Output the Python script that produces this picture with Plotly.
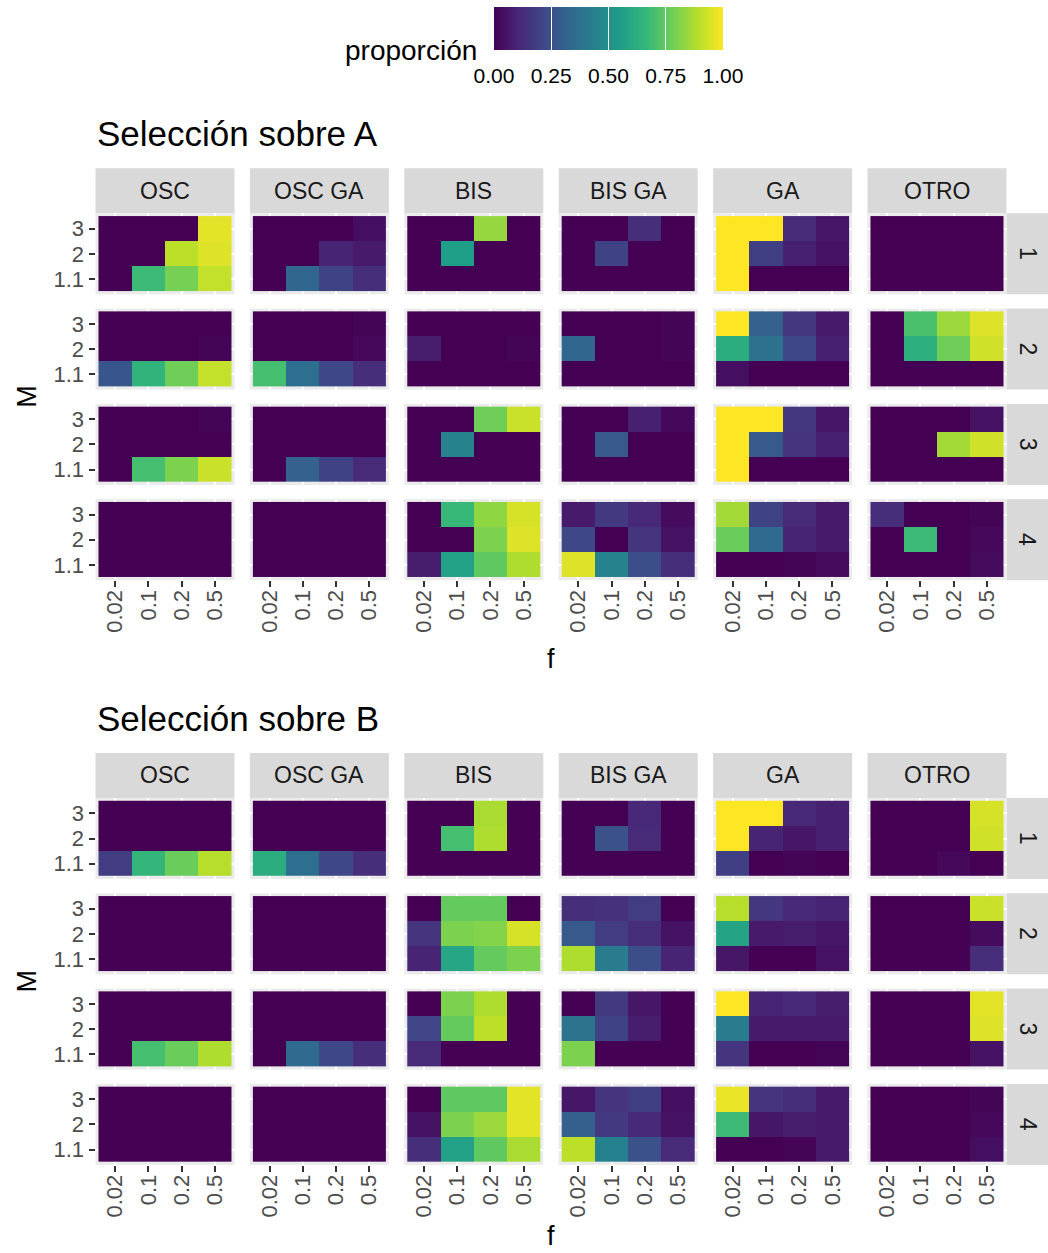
import plotly.graph_objects as go

# ---- categories / labels -------------------------------------------------
F_VALUES = ["0.02", "0.1", "0.2", "0.5"]          # x categories (f)
M_VALUES = ["1.1", "2", "3"]                      # y categories (M), bottom -> top
METHODS = ["OSC", "OSC GA", "BIS", "BIS GA", "GA", "OTRO"]
SCENARIOS = ["1", "2", "3", "4"]
SELECTIONS = ["Selección sobre A", "Selección sobre B"]
LEGEND_TICKS = [0.0, 0.25, 0.5, 0.75, 1.0]
LEGEND_LABELS = ["0.00", "0.25", "0.50", "0.75", "1.00"]

# ---- proportions: [scenario][M row: 1.1, 2, 3][f: 0.02, 0.1, 0.2, 0.5] ----
Z4 = [[0, 0, 0, 0], [0, 0, 0, 0], [0, 0, 0, 0]]

A_OSC = [
    [[0, .68, .79, .91], [0, 0, .90, .95], [0, 0, 0, .96]],
    [[.27, .65, .78, .91], [0, 0, 0, .01], [0, 0, 0, 0]],
    [[0, .70, .80, .92], [0, 0, 0, 0], [0, 0, 0, .01]],
    Z4,
]
A_OSC_GA = [
    [[0, .33, .20, .13], [0, 0, .10, .07], [0, 0, 0, .04]],
    [[.70, .36, .22, .13], [0, 0, 0, .02], [0, 0, 0, .01]],
    [[0, .31, .20, .12], [0, 0, 0, 0], [0, 0, 0, 0]],
    Z4,
]
A_BIS = [
    [[0, 0, 0, 0], [0, .56, 0, 0], [0, 0, .84, 0]],
    [[0, 0, 0, 0], [.08, 0, 0, .01], [0, 0, 0, 0]],
    [[0, 0, 0, 0], [0, .45, 0, 0], [0, 0, .78, .92]],
    [[.08, .57, .75, .88], [0, 0, .80, .95], [0, .67, .83, .94]],
]
A_BIS_GA = [
    [[0, 0, 0, 0], [0, .20, 0, 0], [0, 0, .13, 0]],
    [[0, 0, 0, 0], [.33, 0, 0, .01], [0, 0, 0, .01]],
    [[0, 0, 0, 0], [0, .28, 0, 0], [0, 0, .09, .02]],
    [[.95, .45, .24, .13], [.22, 0, .15, .05], [.07, .17, .11, .03]],
]
A_GA = [
    [[1, 0, 0, 0], [1, .19, .09, .05], [1, 1, .12, .06]],
    [[.04, 0, 0, 0], [.62, .37, .22, .09], [1, .31, .16, .07]],
    [[1, 0, 0, 0], [1, .28, .15, .09], [1, 1, .16, .06]],
    [[0, 0, .01, .03], [.77, .34, .10, .07], [.86, .20, .12, .07]],
]
A_OTRO = [
    Z4,
    [[0, 0, 0, 0], [0, .63, .78, .93], [0, .71, .85, .95]],
    [[0, 0, 0, 0], [0, 0, .86, .93], [0, 0, 0, .05]],
    [[0, 0, 0, .03], [0, .68, 0, .02], [.13, 0, 0, .01]],
]

B_OSC = [
    [[.18, .66, .77, .89], [0, 0, 0, 0], [0, 0, 0, 0]],
    Z4,
    [[0, .70, .77, .88], [0, 0, 0, 0], [0, 0, 0, 0]],
    Z4,
]
B_OSC_GA = [
    [[.62, .36, .22, .13], [0, 0, 0, 0], [0, 0, 0, 0]],
    Z4,
    [[0, .34, .22, .13], [0, 0, 0, 0], [0, 0, 0, 0]],
    Z4,
]
B_BIS = [
    [[0, 0, 0, 0], [0, .70, .88, 0], [0, 0, .87, 0]],
    [[.10, .59, .76, .80], [.15, .80, .81, .94], [0, .76, .76, 0]],
    [[.12, 0, 0, 0], [.21, .76, .90, 0], [0, .80, .88, 0]],
    [[.13, .57, .75, .87], [.05, .80, .85, .96], [0, .75, .75, .96]],
]
B_BIS_GA = [
    [[0, 0, 0, 0], [0, .25, .12, 0], [0, 0, .11, 0]],
    [[.88, .42, .24, .10], [.28, .18, .13, .05], [.13, .14, .18, 0]],
    [[.80, 0, 0, 0], [.38, .20, .08, 0], [0, .17, .06, 0]],
    [[.90, .44, .25, .12], [.30, .17, .11, .05], [.06, .15, .19, .04]],
]
B_GA = [
    [[.19, 0, .01, 0], [1, .10, .06, .09], [1, 1, .11, .09]],
    [[.06, 0, 0, .05], [.58, .07, .08, .06], [.89, .16, .11, .10]],
    [[.15, 0, 0, .01], [.42, .07, .07, .07], [1, .10, .11, .08]],
    [[0, 0, .01, .07], [.68, .06, .08, .07], [.97, .15, .13, .07]],
]
B_OTRO = [
    [[0, 0, .02, 0], [0, 0, 0, .93], [0, 0, 0, .94]],
    [[0, 0, 0, .13], [0, 0, 0, .03], [0, 0, 0, .92]],
    [[0, 0, 0, .05], [0, 0, 0, .95], [0, 0, 0, .96]],
    [[0, 0, 0, .04], [0, 0, 0, .02], [0, 0, 0, .01]],
]

DATA = [
    [A_OSC, A_OSC_GA, A_BIS, A_BIS_GA, A_GA, A_OTRO],
    [B_OSC, B_OSC_GA, B_BIS, B_BIS_GA, B_GA, B_OTRO],
]

# ---- page geometry (pixels) ----------------------------------------------
W, H = 1048, 1253
FONT = "Liberation Sans, Arial, sans-serif"
PANEL_X0, PANEL_DX, PANEL_W = 95.5, 154.4, 139.0
PANEL_Y0 = [213.3, 798.0]
PANEL_DY, PANEL_H = 95.3, 81.0
STRIP_H = 45.0
RIGHT_STRIP_X0 = 1006.7
X_PAD, Y_PAD = 0.09, 0.11   # small expansion around the tiles
TICK_FONT = dict(size=22, color="#4D4D4D", family=FONT)


def fx(px):
    return px / W


def fy(py):
    return 1 - py / H


fig = go.Figure()
layout = {}
shapes = []
annotations = []

tick_x = list(range(len(F_VALUES)))
tick_y = list(range(len(M_VALUES)))

n = 0
for g, sel in enumerate(DATA):
    for r, scen in enumerate(SCENARIOS):
        for c, meth in enumerate(METHODS):
            n += 1
            suffix = "" if n == 1 else str(n)
            x0 = PANEL_X0 + c * PANEL_DX
            y0 = PANEL_Y0[g] + r * PANEL_DY
            fig.add_trace(go.Heatmap(
                z=sel[c][r], x=tick_x, y=tick_y,
                coloraxis="coloraxis",
                xaxis="x" + suffix, yaxis="y" + suffix,
                hoverinfo="skip",
            ))
            bottom = r == len(SCENARIOS) - 1
            left = c == 0
            layout["xaxis" + suffix] = dict(
                domain=[fx(x0), fx(x0 + PANEL_W)],
                anchor="y" + suffix,
                range=[-0.5 - X_PAD, len(F_VALUES) - 0.5 + X_PAD],
                tickvals=tick_x, ticktext=F_VALUES,
                showticklabels=bottom, ticks="outside" if bottom else "",
                ticklen=6, tickwidth=1.6, tickcolor="#333333",
                tickangle=-90, tickfont=TICK_FONT, ticklabelstandoff=-6,
                showgrid=True, gridcolor="white", gridwidth=1.5,
                zeroline=False, showline=False, fixedrange=True,
            )
            layout["yaxis" + suffix] = dict(
                domain=[fy(y0 + PANEL_H), fy(y0)],
                anchor="x" + suffix,
                range=[-0.5 - Y_PAD, len(M_VALUES) - 0.5 + Y_PAD],
                tickvals=tick_y, ticktext=M_VALUES,
                showticklabels=left, ticks="outside" if left else "",
                ticklen=6, tickwidth=1.6, tickcolor="#333333",
                tickfont=TICK_FONT,
                showgrid=True, gridcolor="white", gridwidth=1.5,
                zeroline=False, showline=False, fixedrange=True,
            )

    # facet strips along the top
    top = PANEL_Y0[g] - STRIP_H
    for c, meth in enumerate(METHODS):
        x0 = PANEL_X0 + c * PANEL_DX
        shapes.append(dict(type="rect", xref="paper", yref="paper",
                           x0=fx(x0), x1=fx(x0 + PANEL_W), y0=fy(top + STRIP_H), y1=fy(top),
                           fillcolor="#D9D9D9", line=dict(width=0), layer="below"))
        annotations.append(dict(text=meth, x=fx(x0 + PANEL_W / 2), y=fy(top + STRIP_H / 2),
                                xref="paper", yref="paper", showarrow=False,
                                xanchor="center", yanchor="middle",
                                font=dict(size=23, color="#1A1A1A", family=FONT)))
    # facet strips on the right
    for r, scen in enumerate(SCENARIOS):
        y0 = PANEL_Y0[g] + r * PANEL_DY
        shapes.append(dict(type="rect", xref="paper", yref="paper",
                           x0=fx(RIGHT_STRIP_X0), x1=1.0, y0=fy(y0 + PANEL_H), y1=fy(y0),
                           fillcolor="#D9D9D9", line=dict(width=0), layer="below"))
        annotations.append(dict(text=scen, x=fx(RIGHT_STRIP_X0 + 21), y=fy(y0 + PANEL_H / 2),
                                xref="paper", yref="paper", showarrow=False, textangle=90,
                                xanchor="center", yanchor="middle",
                                font=dict(size=23, color="#1A1A1A", family=FONT)))

    # section title and axis titles
    annotations.append(dict(text=SELECTIONS[g], x=fx(95), y=fy(PANEL_Y0[g] - 80),
                            xref="paper", yref="paper", showarrow=False,
                            xanchor="left", yanchor="middle",
                            font=dict(size=35, color="black", family=FONT)))
    grid_mid = PANEL_Y0[g] + (3 * PANEL_DY + PANEL_H) / 2
    annotations.append(dict(text="M", x=fx(27), y=fy(grid_mid),
                            xref="paper", yref="paper", showarrow=False, textangle=-90,
                            xanchor="center", yanchor="middle",
                            font=dict(size=27, color="black", family=FONT)))
    f_center = PANEL_X0 + (5 * PANEL_DX + PANEL_W) / 2
    if g == 0:
        annotations.append(dict(text="f", x=fx(f_center),
                                y=fy(PANEL_Y0[g] + 3 * PANEL_DY + PANEL_H + 79),
                                xref="paper", yref="paper", showarrow=False,
                                xanchor="center", yanchor="middle",
                                font=dict(size=27, color="black", family=FONT)))
    else:
        annotations.append(dict(text="f", x=fx(f_center), y=0,
                                xref="paper", yref="paper", showarrow=False,
                                xanchor="center", yanchor="bottom",
                                font=dict(size=27, color="black", family=FONT)))

# legend title
annotations.append(dict(text="proporción", x=fx(479), y=fy(50),
                        xref="paper", yref="paper", showarrow=False,
                        xanchor="right", yanchor="middle",
                        font=dict(size=28, color="black", family=FONT)))

CBAR_POS = dict(
    orientation="h",
    x=fx(608.5), xanchor="center",
    y=fy(7), yanchor="top",
    len=229 / W, lenmode="fraction",
    thickness=43, thicknessmode="pixels",
    xpad=0, ypad=0, outlinewidth=0,
    tickvals=LEGEND_TICKS,
)

# overlay scale: transparent bar that only carries the white tick marks
fig.add_trace(go.Scatter(
    x=[None], y=[None], mode="markers", xaxis="x", yaxis="y",
    marker=dict(color=[0.5], coloraxis="coloraxis2"),
    hoverinfo="skip", showlegend=False,
))

layout.update(dict(
    width=W, height=H,
    margin=dict(l=0, r=0, t=0, b=0),
    paper_bgcolor="white", plot_bgcolor="#EBEBEB",
    showlegend=False,
    font=dict(family=FONT),
    coloraxis=dict(
        colorscale="Viridis", cmin=0, cmax=1,
        colorbar=dict(
            **CBAR_POS,
            ticktext=LEGEND_LABELS,
            ticks="outside", ticklen=8, tickwidth=1, tickcolor="rgba(255,255,255,0)",
            tickfont=dict(size=21, color="black", family=FONT),
        ),
    ),
    coloraxis2=dict(
        colorscale=[[0, "rgba(0,0,0,0)"], [1, "rgba(0,0,0,0)"]], cmin=0, cmax=1,
        colorbar=dict(
            **CBAR_POS,
            showticklabels=False,
            ticks="inside", ticklen=43, tickwidth=1, tickcolor="white",
        ),
    ),
    shapes=shapes,
    annotations=annotations,
))
fig.update_layout(layout)
fig.write_html("out.html")
